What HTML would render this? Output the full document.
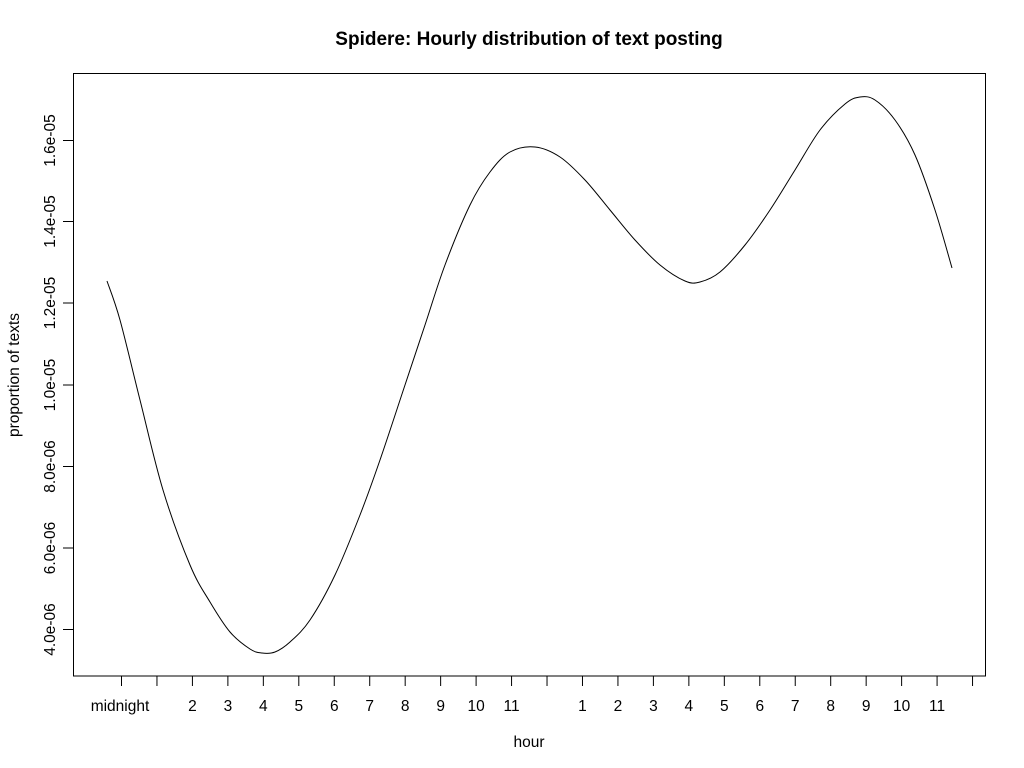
<!DOCTYPE html>
<html><head><meta charset="utf-8"><style>body{margin:0;background:#fff}svg{display:block}text{font-family:"Liberation Sans",Arial,sans-serif;fill:#000}</style></head>
<body>
<svg width="1024" height="768" xmlns="http://www.w3.org/2000/svg">
<rect width="1024" height="768" fill="#fff"/>
<text x="529" y="45" font-size="19" font-weight="bold" text-anchor="middle">Spidere: Hourly distribution of text posting</text>
<rect x="73.5" y="73.5" width="912" height="602.5" fill="none" stroke="#000" stroke-width="1"/>
<g id="xt" stroke="#000"></g>
<g id="xl" font-size="15.5" text-anchor="middle"></g>
<g stroke="#000">
<line x1="63" y1="629.5" x2="73" y2="629.5"/><line x1="63" y1="548" x2="73" y2="548"/><line x1="63" y1="466.5" x2="73" y2="466.5"/><line x1="63" y1="385" x2="73" y2="385"/><line x1="63" y1="303" x2="73" y2="303"/><line x1="63" y1="221.5" x2="73" y2="221.5"/><line x1="63" y1="140.5" x2="73" y2="140.5"/>
</g>
<g font-size="15.5" text-anchor="middle">
<text transform="translate(55,629.5) rotate(-90)">4.0e-06</text>
<text transform="translate(55,548) rotate(-90)">6.0e-06</text>
<text transform="translate(55,466.5) rotate(-90)">8.0e-06</text>
<text transform="translate(55,385) rotate(-90)">1.0e-05</text>
<text transform="translate(55,303) rotate(-90)">1.2e-05</text>
<text transform="translate(55,221.5) rotate(-90)">1.4e-05</text>
<text transform="translate(55,140.5) rotate(-90)">1.6e-05</text>
<text transform="translate(19,375) rotate(-90)">proportion of texts</text>
</g>
<text x="529" y="747" font-size="15.5" text-anchor="middle">hour</text>
<path id="c" fill="none" stroke="#000" stroke-width="1"/>
</svg>
<script>
var xt=document.getElementById('xt'),xl=document.getElementById('xl'),ns='http://www.w3.org/2000/svg';
var labs=['midnight','','2','3','4','5','6','7','8','9','10','11','','1','2','3','4','5','6','7','8','9','10','11',''];
for(var i=0;i<25;i++){var x=121.5+i*35.46;var l=document.createElementNS(ns,'line');l.setAttribute('x1',x);l.setAttribute('x2',x);l.setAttribute('y1',676);l.setAttribute('y2',686);xt.appendChild(l);
if(labs[i]){var t=document.createElementNS(ns,'text');t.setAttribute('x',i==0?120:x);t.setAttribute('y',711);t.textContent=labs[i];xl.appendChild(t);}}
var p=[[107,281],[120,320],[140,400],[163,490],[190,565],[210,602],[230,632],[250,649],[262,653],[275,652],[290,642],[310,620],[335,575],[360,515],[380,460],[405,385],[425,325],[445,265],[470,205],[490,172],[510,152],[535,147],[560,157],[585,180],[610,210],[635,240],[660,265],[685,281],[700,282],[720,272],[745,245],[770,210],[795,170],[820,130],[845,104],[860,97],[875,100],[895,120],[915,155],[935,210],[952,268]];
var d='M'+p[0];
for(var i=0;i<p.length-1;i++){var p0=p[i-1]||p[i],p1=p[i],p2=p[i+1],p3=p[i+2]||p2;
d+=' C'+(p1[0]+(p2[0]-p0[0])/6)+','+(p1[1]+(p2[1]-p0[1])/6)+' '+(p2[0]-(p3[0]-p1[0])/6)+','+(p2[1]-(p3[1]-p1[1])/6)+' '+p2;}
document.getElementById('c').setAttribute('d',d);
</script>
</body></html>
